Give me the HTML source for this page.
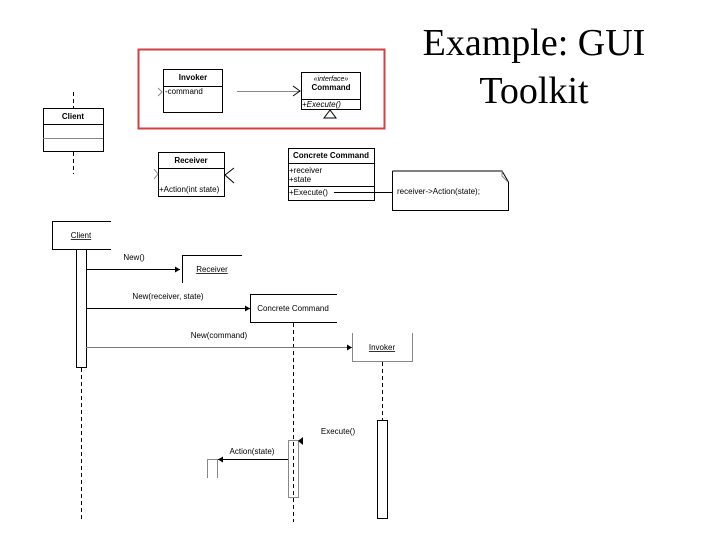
<!DOCTYPE html>
<html><head><style>
body{margin:0;width:720px;height:540px;background:#fff;overflow:hidden}
svg{display:block}
text{font-family:"Liberation Sans",sans-serif;font-size:8px;fill:#000}
</style></head><body>
<svg width="720" height="540" viewBox="0 0 720 540">
<text x="534" y="55" text-anchor="middle" style="font-family:'Liberation Serif',serif;font-size:38px">Example: GUI</text>
<text x="534" y="103" text-anchor="middle" style="font-family:'Liberation Serif',serif;font-size:38px">Toolkit</text>

<rect x="138.5" y="49.5" width="246" height="79" fill="none" stroke="#d04040" stroke-width="2"/>
<g fill="none" stroke="#000" stroke-width="1">
<rect x="163.5" y="69.5" width="59" height="43"/><line x1="163" y1="86.5" x2="222" y2="86.5"/>
<rect x="301.5" y="72.5" width="59" height="37"/><line x1="301" y1="99.5" x2="360" y2="99.5"/>
<polygon points="330,110 324,118 336,118"/>
<polyline points="158,88 162,92 158,96" stroke="#888"/>
<line x1="237" y1="91.5" x2="300" y2="91.5" stroke="#888"/>
<polyline points="293,86 300,91 293,96"/>
<rect x="43.5" y="108.5" width="60" height="43"/><line x1="43" y1="124.5" x2="103" y2="124.5"/><line x1="43" y1="138.5" x2="103" y2="138.5" stroke="#888"/>
<line x1="73.5" y1="92" x2="73.5" y2="108" stroke-dasharray="4,3"/>
<line x1="73.5" y1="152" x2="73.5" y2="174" stroke-dasharray="4,3"/>
<rect x="158.5" y="152.5" width="66" height="44"/><line x1="158" y1="168.5" x2="224" y2="168.5"/>
<polyline points="154,169 158,174 154,179" stroke="#888"/>
<polyline points="234,168 225,175 234,183"/>
<rect x="288.5" y="148.5" width="86" height="52"/><line x1="288" y1="163.5" x2="374" y2="163.5"/><line x1="288" y1="186.5" x2="374" y2="186.5"/>
<line x1="334" y1="192.5" x2="392" y2="192.5"/>
<polyline points="392.5,171 392.5,210.5 508.5,210.5 508.5,182 502,171 392.5,171"/>
<polyline points="502,171 502,176 508,182" stroke="#888"/>

<polyline points="111,221.5 52.5,221.5 52.5,249.5 111,249.5"/>
<rect x="76.5" y="249.5" width="10" height="118"/>
<line x1="81.5" y1="368" x2="81.5" y2="522" stroke-dasharray="4,3"/>
<line x1="86" y1="269.5" x2="180" y2="269.5"/>
<polyline points="242,255.5 182.5,255.5 182.5,283"/>
<line x1="86" y1="308.5" x2="250" y2="308.5"/>
<polyline points="337,294.5 250.5,294.5 250.5,322.5 337,322.5"/>
<line x1="293.5" y1="323" x2="293.5" y2="522" stroke-dasharray="4,3"/>
<line x1="86" y1="347.5" x2="352" y2="347.5" stroke="#777"/>
<polyline points="352.5,333 352.5,361.5 412.5,361.5 412.5,333" stroke="#888"/>
<line x1="382.5" y1="362" x2="382.5" y2="420" stroke-dasharray="4,3"/>
<rect x="377.5" y="420.5" width="10" height="98"/>
<rect x="288.5" y="440.5" width="10" height="57" stroke="#888"/>
<line x1="288" y1="459.5" x2="218" y2="459.5"/>
<polyline points="207.5,478 207.5,459.5 217.5,459.5 217.5,478" stroke="#888"/>
</g>
<g fill="#000">
<polygon points="180,269.5 175,266.5 175,272.5"/>
<polygon points="250,308.5 245,305.5 245,311.5"/>
<polygon points="352,347.5 347,344.5 347,350.5"/>
<polygon points="298,441 303,437 303,445"/>
<polygon points="218,459.5 223,456.5 223,462.5"/>
</g>
<g font-weight="bold">
<text x="193" y="80" text-anchor="middle" style="font-weight:bold">Invoker</text>
<text x="331" y="90" text-anchor="middle" style="font-weight:bold">Command</text>
<text x="73" y="119" text-anchor="middle" style="font-weight:bold">Client</text>
<text x="191" y="163" text-anchor="middle" style="font-weight:bold">Receiver</text>
<text x="331" y="158" text-anchor="middle" style="font-weight:bold">Concrete Command</text>
</g>
<text x="331" y="81" text-anchor="middle" style="font-size:7px;font-style:italic">«interface»</text>
<text x="165" y="94">-command</text>
<text x="302" y="107" style="font-style:italic">+Execute()</text>
<text x="159" y="192">+Action(int state)</text>
<text x="289" y="173">+receiver</text>
<text x="289" y="182">+state</text>
<text x="289" y="195">+Execute()</text>
<text x="397" y="194">receiver->Action(state);</text>
<text x="81" y="238" text-anchor="middle" text-decoration="underline">Client</text>
<text x="134" y="260" text-anchor="middle">New()</text>
<text x="212" y="272" text-anchor="middle" text-decoration="underline">Receiver</text>
<text x="168" y="299" text-anchor="middle">New(receiver, state)</text>
<text x="293" y="311" text-anchor="middle">Concrete Command</text>
<text x="219" y="338" text-anchor="middle">New(command)</text>
<text x="382" y="350" text-anchor="middle" text-decoration="underline">Invoker</text>
<text x="338" y="434" text-anchor="middle">Execute()</text>
<text x="252" y="454" text-anchor="middle">Action(state)</text>
</svg>
</body></html>
